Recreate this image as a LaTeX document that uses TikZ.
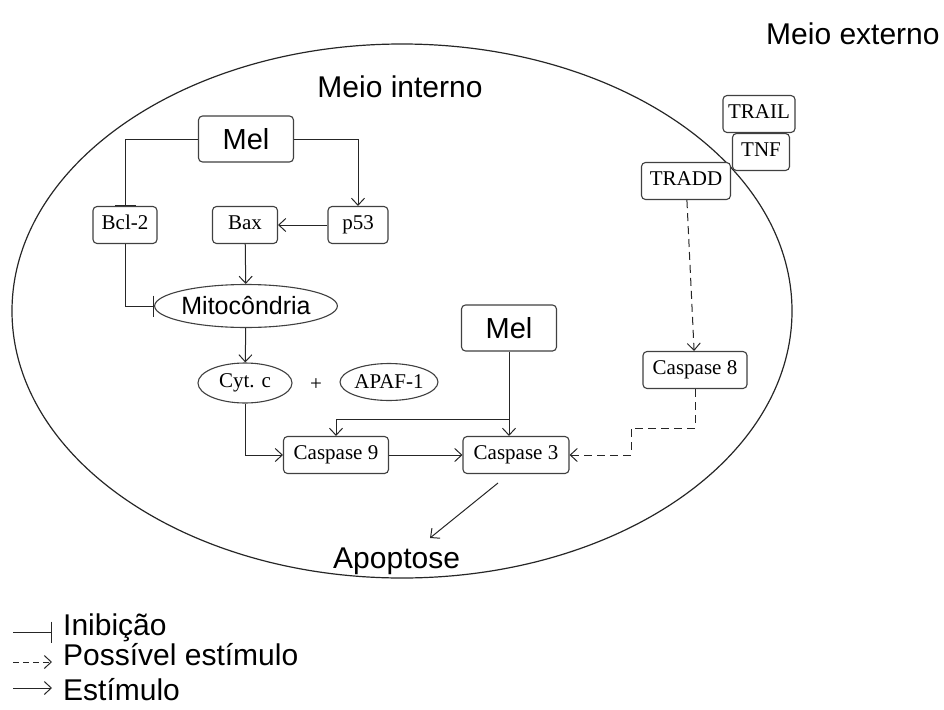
\documentclass[tikz,border=0pt]{standalone}
\usepackage{fontspec}
\setmainfont{Liberation Sans}
\newfontfamily\serifa{Liberation Serif}
\usepackage{tikz}
\usetikzlibrary{arrows.meta, shapes.geometric}

\begin{document}
\begin{tikzpicture}[x=1pt, y=-1pt,
    caixa/.style={draw=black!75, fill=white, rounded corners=4pt, line width=1.1pt,
        font=\serifa\fontsize{21}{21}\selectfont, inner xsep=3pt, inner ysep=0pt,
        text height=14pt, text depth=4.5pt, minimum height=37pt},
    melbox/.style={caixa, font=\fontsize{29}{29}\selectfont, text height=21pt, text depth=1pt,
        minimum width=95pt, minimum height=46pt},
    elip/.style={draw=black!75, fill=white, ellipse, line width=1.1pt, inner sep=0pt,
        font=\serifa\fontsize{21}{21}\selectfont},
    rotulo/.style={font=\fontsize{30}{30}\selectfont, inner sep=0pt},
    seta/.style={draw=black!85, line width=1pt, -{Straight Barb[length=7pt, width=13pt, line width=1pt]}},
    inib/.style={draw=black!85, line width=1pt, -{Bar[width=21pt, line width=1.2pt]}},
    poss/.style={seta, dash pattern=on 8pt off 5pt}]
            \useasboundingbox (0,0) rectangle (944,709);

            % celula
            \draw[line width=1.2pt, black!85] (402,311) ellipse [x radius=390pt, y radius=267pt];
            \node[rotulo, anchor=base west] (externo) at (766,45) {Meio externo};
            \node[rotulo, anchor=base] (interno) at (400,97) {Meio interno};

            % via intrinseca
            \node[melbox] (melA) at (246,139) {Mel};
            \node[caixa, minimum width=64pt] (bcl) at (125,225) {Bcl-2};
            \node[caixa, minimum width=65pt] (bax) at (245,225) {Bax};
            \node[caixa, minimum width=60pt] (p53) at (358,225) {p53};
            \node[elip, font=\fontsize{25}{25}\selectfont, minimum width=173pt, minimum height=43pt] (mito) at (246,306) {Mitocôndria};
            \node[elip, minimum width=94pt, minimum height=40pt] (cyt) at (245,383) {Cyt. c};
            \node[font=\serifa\fontsize{21}{21}\selectfont] (mais) at (316,385) {+};
            \node[elip, minimum width=96pt, minimum height=37pt] (apaf) at (389,382) {APAF-1};
            \node[melbox] (melB) at (509,328) {Mel};
            \node[caixa, minimum width=105pt] (casp9) at (336,455) {Caspase 9};
            \node[caixa, minimum width=106pt] (casp3) at (516,455) {Caspase 3};

            % via extrinseca
            \node[caixa, minimum width=72pt] (trail) at (759,114) {TRAIL};
            \node[caixa, minimum width=57pt] (tnf) at (761,152) {TNF};
            \node[caixa, minimum width=89pt] (tradd) at (686,181) {TRADD};
            \node[caixa, minimum width=104pt] (casp8) at (695,370) {Caspase 8};

            \node[rotulo, anchor=base west] (apop) at (333,568) {Apoptose};

            % conexoes
            \draw[inib] (melA.west) -| (bcl.north);
            \draw[seta] (melA.east) -| (p53.north);
            \draw[seta] (p53) -- (bax);
            \draw[seta] (bax) -- (mito);
            \draw[inib] (bcl.south) |- (mito.west);
            \draw[seta] (mito) -- (cyt);
            \draw[seta] (cyt.south) |- (casp9.west);
            \draw[seta] (casp9) -- (casp3);
            \draw[seta] (melB.south) -- (melB.south |- casp3.north);
            \coordinate (ramo) at (509,419);
            \draw[seta] (ramo) -| (casp9.north);
            \draw[poss] (tradd) -- (casp8);
            \coordinate (desvio) at (631,428);
            \draw[poss] (casp8.south) |- (desvio) |- (casp3.east);
            \coordinate (apA) at (498,483);
            \coordinate (apB) at (430,538);
            \draw[seta] (apA) -- (apB);

            % legenda
            \coordinate (l1a) at (13,632);
            \coordinate (l1b) at (52,632);
            \coordinate (l2a) at (13,662);
            \coordinate (l2b) at (52,662);
            \coordinate (l3a) at (13,688);
            \coordinate (l3b) at (52,688);
            \draw[inib] (l1a) -- (l1b);
            \draw[poss, dash pattern=on 6pt off 4pt] (l2a) -- (l2b);
            \draw[seta] (l3a) -- (l3b);
            \node[rotulo, anchor=base west] (tIni) at (63,635) {Inibição};
            \node[rotulo, anchor=base west] (tPoss) at (63,665) {Possível estímulo};
            \node[rotulo, anchor=base west] (tEst) at (63,700) {Estímulo};
        \end{tikzpicture}
\end{document}
